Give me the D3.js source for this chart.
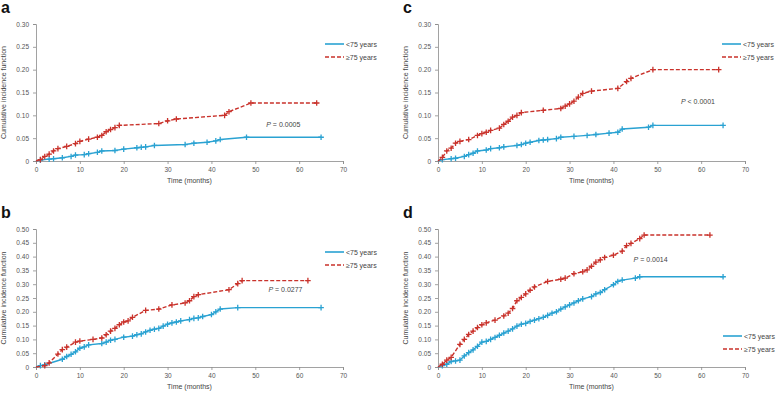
<!DOCTYPE html>
<html lang="en">
<head>
<meta charset="UTF-8">
<title>Cumulative incidence by age</title>
<style>
    body { margin: 0; background: #fff; }
    svg { display: block; font-family: "Liberation Sans", Arial, sans-serif; }
    .axis path, .axis line { stroke: #8a8a8a; stroke-width: 0.8px; }
    .axis text { fill: #555; font-size: 6.5px; }
    .axis-label { fill: #444; font-size: 7px; text-anchor: middle; }
    .legend text { fill: #444; font-size: 7px; }
    .pval { fill: #444; font-size: 7px; }
    .panel-letter { font-size: 16px; font-weight: bold; fill: #111; }
</style>
</head>
<body>
<svg id="chart" width="778" height="394"></svg>
<script src="https://d3js.org/d3.v7.min.js"></script>
<script>
// --- Data (time in months, cumulative incidence) ---
const xTicks = [0, 10, 20, 30, 40, 50, 60, 70];
const yTicksTop = [0, 0.05, 0.10, 0.15, 0.20, 0.25, 0.30];
const yTicksBottom = [0, 0.05, 0.10, 0.15, 0.20, 0.25, 0.30, 0.35, 0.40, 0.45, 0.50];
const seriesNames = ["<75 years", "\u226575 years"];

const aYoung = [[0,0],[1,0.002],[3,0.004],[4,0.005],[6,0.007],[8,0.01],[9,0.013],[11,0.014],[12,0.016],[14,0.019],[15,0.022],[18,0.023],[20,0.026],[23,0.029],[24,0.03],[25,0.031],[27,0.034],[34,0.036],[36,0.039],[39,0.041],[41,0.044],[42,0.047],[48,0.052],[65,0.052]];
const aOld = [[0,0],[1,0.003],[2,0.01],[3,0.015],[4,0.022],[5,0.027],[7,0.032],[9,0.038],[10,0.043],[12,0.048],[14,0.052],[15,0.056],[16,0.064],[17,0.069],[18,0.073],[19,0.078],[28,0.082],[30,0.088],[32,0.092],[43,0.1],[44,0.108],[49,0.127],[64,0.127]];

const cYoung = [[0,0],[1,0.003],[3,0.005],[4,0.006],[6,0.01],[7,0.014],[8,0.017],[9,0.022],[11,0.024],[12,0.027],[14,0.029],[15,0.031],[18,0.034],[19,0.036],[20,0.039],[21,0.041],[23,0.045],[24,0.046],[25,0.047],[27,0.049],[28,0.052],[31,0.054],[34,0.056],[36,0.058],[39,0.061],[41,0.063],[42,0.07],[48,0.074],[49,0.078],[65,0.078]];
const cOld = [[0,0],[1,0.008],[2,0.022],[3,0.028],[4,0.039],[5,0.043],[7,0.047],[9,0.056],[10,0.06],[11,0.063],[12,0.067],[14,0.072],[15,0.08],[16,0.087],[17,0.096],[18,0.1],[19,0.106],[24,0.111],[28,0.115],[29,0.12],[30,0.125],[31,0.131],[32,0.14],[33,0.148],[35,0.153],[41,0.159],[43,0.174],[44,0.181],[49,0.2],[64,0.2]];

const bYoung = [[0,0],[1,0.005],[2,0.008],[6,0.028],[7,0.038],[8,0.046],[9,0.055],[10,0.068],[11,0.073],[12,0.08],[15,0.085],[16,0.09],[17,0.097],[18,0.1],[20,0.108],[22,0.112],[23,0.117],[24,0.12],[25,0.127],[26,0.133],[27,0.137],[28,0.14],[29,0.148],[30,0.155],[31,0.16],[32,0.163],[33,0.167],[35,0.172],[36,0.176],[37,0.178],[38,0.183],[40,0.19],[41,0.2],[42,0.21],[46,0.215],[65,0.215]];
const bOld = [[0,0],[2,0.005],[3,0.015],[5,0.047],[6,0.063],[7,0.072],[9,0.09],[10,0.094],[13,0.1],[15,0.105],[16,0.117],[17,0.13],[18,0.14],[19,0.153],[20,0.163],[21,0.167],[22,0.18],[25,0.205],[28,0.21],[31,0.225],[34,0.232],[35,0.24],[36,0.255],[37,0.262],[44,0.28],[46,0.302],[47,0.313],[62,0.313]];

const dYoung = [[0,0],[1,0.005],[2,0.01],[3,0.02],[4,0.022],[5,0.025],[6,0.04],[7,0.052],[8,0.062],[9,0.075],[10,0.09],[11,0.093],[12,0.1],[13,0.107],[14,0.115],[15,0.123],[16,0.13],[17,0.138],[18,0.148],[19,0.155],[20,0.158],[21,0.165],[22,0.17],[23,0.175],[24,0.18],[25,0.187],[26,0.195],[27,0.2],[28,0.21],[29,0.218],[30,0.225],[31,0.232],[32,0.24],[33,0.247],[35,0.255],[36,0.265],[37,0.27],[38,0.28],[40,0.298],[41,0.31],[42,0.315],[45,0.322],[46,0.327],[65,0.327]];
const dOld = [[0,0],[1,0.01],[2,0.025],[3,0.035],[5,0.082],[6,0.1],[7,0.118],[8,0.13],[9,0.143],[10,0.153],[11,0.16],[13,0.17],[15,0.185],[16,0.195],[17,0.212],[18,0.24],[19,0.252],[20,0.265],[21,0.278],[22,0.29],[25,0.31],[28,0.318],[29,0.322],[31,0.338],[33,0.345],[34,0.352],[35,0.365],[36,0.38],[37,0.388],[38,0.397],[40,0.405],[42,0.42],[43,0.44],[44,0.448],[46,0.465],[47,0.478],[62,0.478]];

const pLabels = { a: "= 0.0005", b: "= 0.0277", c: "< 0.0001", d: "= 0.0014" };
const pAnchor = { a: [52.5, 0.075], b: [53, 0.271], c: [55.4, 0.125], d: [44.6, 0.381] };

// --- Layout ---
const panels = [
    { id: "a", young: aYoung, old: aOld, yTicks: yTicksTop, ox: 36, oy: 161, top: 24, legend: [325, 44] },
    { id: "c", young: cYoung, old: cOld, yTicks: yTicksTop, ox: 438, oy: 161, top: 24, legend: [722, 44] },
    { id: "b", young: bYoung, old: bOld, yTicks: yTicksBottom, ox: 36, oy: 367, top: 229, legend: [325, 252] },
    { id: "d", young: dYoung, old: dOld, yTicks: yTicksBottom, ox: 438, oy: 367, top: 229, legend: [723, 336] }
];
const plotWidth = 307;
const blue = "#2aa2d2", red = "#c9322b";
const svg = d3.select("#chart");
const plus = "M-2.8,0H2.8M0,-2.8V2.8";

panels.forEach(p => {
    const g = svg.append("g");
    const x = d3.scaleLinear().domain([0, 70]).range([p.ox, p.ox + plotWidth]);
    const yMax = p.yTicks[p.yTicks.length - 1];
    const y = d3.scaleLinear().domain([0, yMax]).range([p.oy, p.top]);
    const fmt = d => d === 0 ? "0" : d3.format(".2f")(d);

    g.append("g").attr("class", "axis")
        .attr("transform", `translate(0,${p.oy})`)
        .call(d3.axisBottom(x).tickValues(xTicks).tickSize(3).tickPadding(3));
    g.append("g").attr("class", "axis")
        .attr("transform", `translate(${p.ox},0)`)
        .call(d3.axisLeft(y).tickValues(p.yTicks).tickFormat(fmt).tickSize(3).tickPadding(4));

    // panel letter
    g.append("text").attr("class", "panel-letter")
        .attr("x", p.ox - 35).attr("y", p.top - 11).text(p.id);

    g.append("text").attr("class", "axis-label")
        .attr("x", (p.ox + p.ox + plotWidth) / 2).attr("y", p.oy + 22)
        .text("Time (months)");
    g.append("text").attr("class", "axis-label")
        .attr("transform", `translate(${p.ox - 30.5},${(p.oy + p.top) / 2}) rotate(-90)`)
        .text("Cumulative incidence function");

    const line = d3.line().x(d => x(d[0])).y(d => y(d[1]));
    [[p.young, blue, null], [p.old, red, "4,2"]].forEach(([data, col, dash]) => {
        g.append("path").datum(data)
            .attr("d", line).attr("fill", "none")
            .attr("stroke", col).attr("stroke-width", 1.4)
            .attr("stroke-dasharray", dash);
        g.selectAll(null).data(data.slice(1)).enter().append("path")
            .attr("d", plus)
            .attr("transform", d => `translate(${x(d[0])},${y(d[1])})`)
            .attr("stroke", col).attr("stroke-width", 1.3).attr("fill", "none");
    });

    // p-value
    const pt = g.append("text").attr("class", "pval")
        .attr("x", x(pAnchor[p.id][0])).attr("y", y(pAnchor[p.id][1]));
    pt.append("tspan").attr("font-style", "italic").text("P");
    pt.append("tspan").text(" " + pLabels[p.id]);

    // legend
    const lg = g.append("g").attr("class", "legend");
    [[blue, null], [red, "4,2"]].forEach(([col, dash], i) => {
        const ly = p.legend[1] + i * 13;
        lg.append("line")
            .attr("x1", p.legend[0]).attr("x2", p.legend[0] + 19)
            .attr("y1", ly).attr("y2", ly)
            .attr("stroke", col).attr("stroke-width", 1.6).attr("stroke-dasharray", dash);
        lg.append("text").attr("x", p.legend[0] + 21).attr("y", ly + 2.5).text(seriesNames[i]);
    });
});
</script>
</body>
</html>
